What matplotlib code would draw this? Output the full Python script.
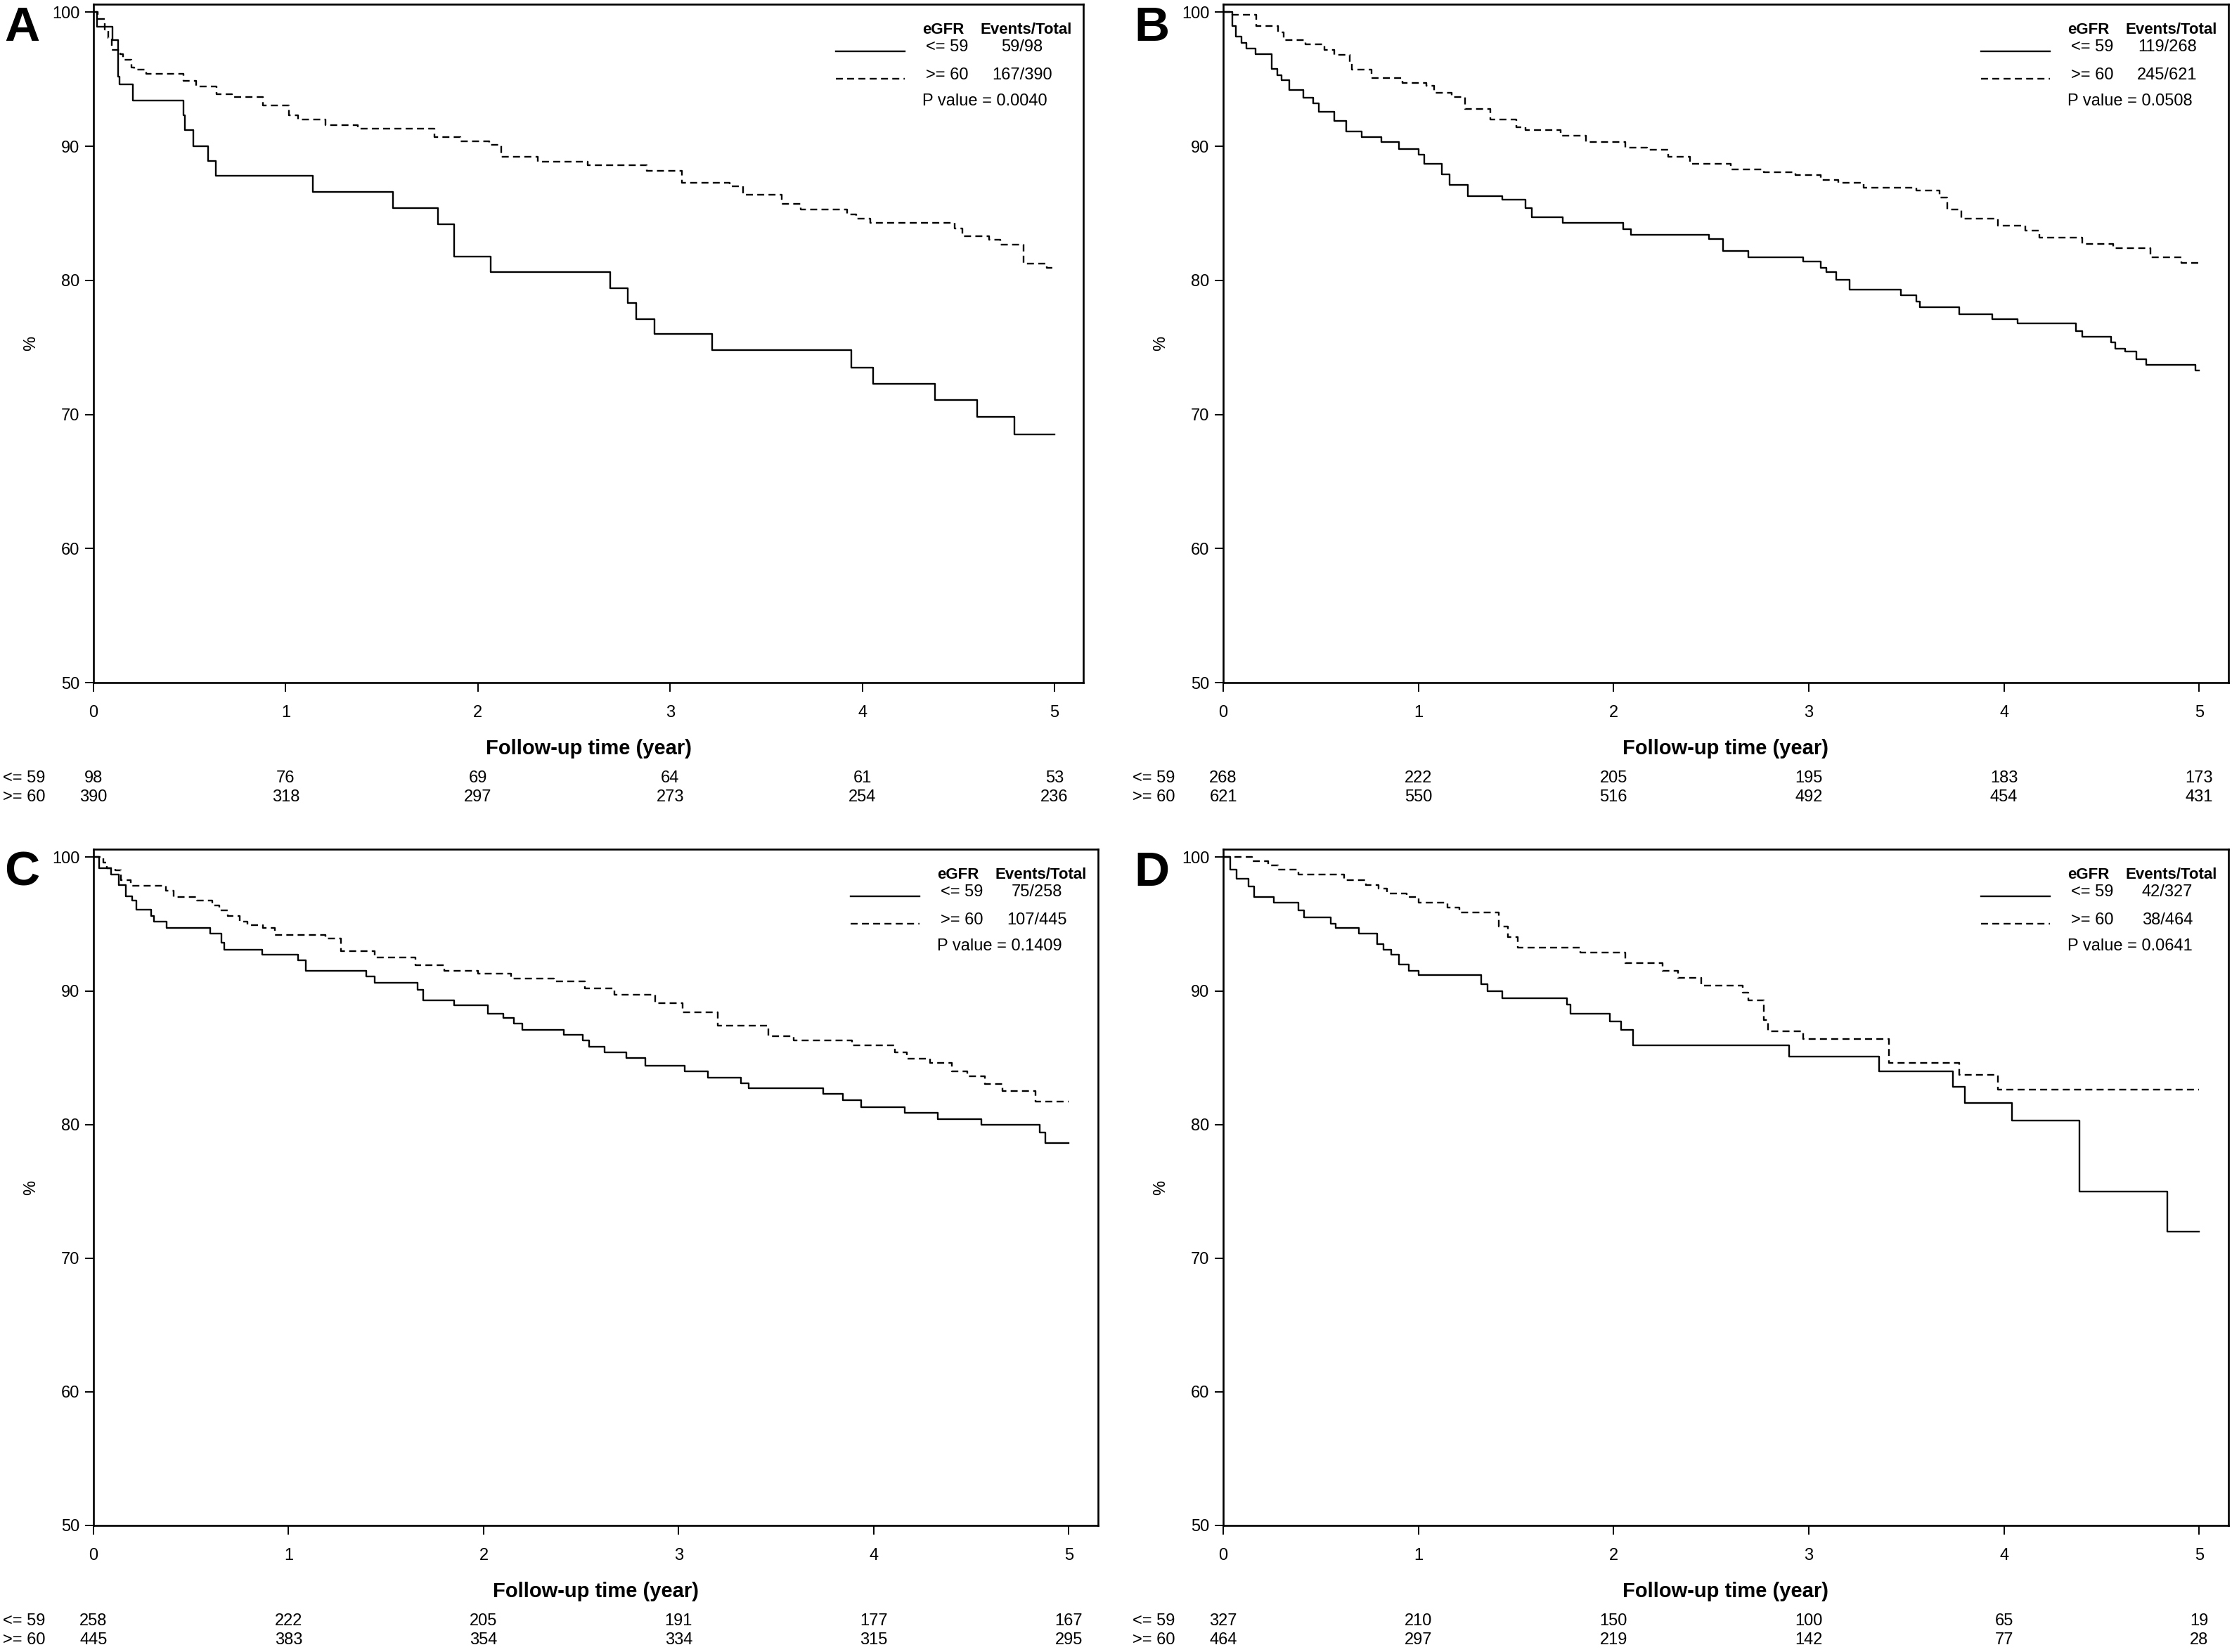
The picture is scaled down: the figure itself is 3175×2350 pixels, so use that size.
import matplotlib
matplotlib.use('Agg')
import matplotlib.pyplot as plt

plt.rcParams['font.family'] = ['Liberation Sans', 'DejaVu Sans']

W, H = 3175, 2350

# ---- data (time in years, survival in %) ----
years = [0, 1, 2, 3, 4, 5]

# A
A_lo_t = [0, 0.02, 0.098, 0.127, 0.136, 0.206, 0.467, 0.474, 0.521, 0.596, 0.636, 1.142, 1.557,
          1.792, 1.876, 2.067, 2.69, 2.78, 2.825, 2.92, 3.22, 3.944, 4.056, 4.38, 4.597, 4.79, 5.0]
A_lo_s = [100, 98.9, 97.9, 95.2, 94.6, 93.4, 92.3, 91.2, 90.0, 88.9, 87.8, 86.6, 85.4,
          84.2, 81.8, 80.6, 79.4, 78.3, 77.1, 76.0, 74.8, 73.5, 72.3, 71.1, 69.8, 68.5, 68.5]
A_hi_t = [0, 0.023, 0.06, 0.077, 0.096, 0.139, 0.155, 0.196, 0.212, 0.273, 0.467, 0.534, 0.64,
          0.722, 0.882, 1.016, 1.065, 1.207, 1.376, 1.773, 1.91, 2.06, 2.12, 2.31, 2.57, 2.88,
          3.06, 3.31, 3.38, 3.58, 3.68, 3.92, 3.97, 4.04, 4.48, 4.52, 4.66, 4.72, 4.84, 4.96, 5.0]
A_hi_s = [100, 99.5, 98.7, 98.1, 97.2, 96.9, 96.45, 95.9, 95.7, 95.4, 94.9, 94.45, 93.9,
          93.7, 93.05, 92.3, 92.0, 91.6, 91.3, 90.7, 90.4, 90.1, 89.2, 88.85, 88.6, 88.15,
          87.3, 87.0, 86.4, 85.7, 85.3, 84.9, 84.6, 84.3, 83.85, 83.3, 83.05, 82.65, 81.25, 80.95, 80.95]
A_risk_lo = [98, 76, 69, 64, 61, 53]
A_risk_hi = [390, 318, 297, 273, 254, 236]
A_legend = ['59/98', '167/390', 'P value = 0.0040']

# B
B_lo_t = [0, 0.047, 0.065, 0.094, 0.12, 0.167, 0.247, 0.276, 0.3, 0.34, 0.41, 0.46, 0.49, 0.57,
          0.63, 0.71, 0.81, 0.9, 1.0, 1.03, 1.12, 1.16, 1.255, 1.43, 1.55, 1.58, 1.74, 2.05, 2.09,
          2.49, 2.56, 2.69, 2.97, 3.06, 3.09, 3.14, 3.21, 3.47, 3.55, 3.57, 3.77, 3.94, 4.07, 4.37,
          4.4, 4.55, 4.57, 4.62, 4.68, 4.73, 4.98, 5.0]
B_lo_s = [100, 99.0, 98.2, 97.7, 97.3, 96.9, 95.8, 95.3, 94.95, 94.2, 93.6, 93.2, 92.6, 91.9,
          91.1, 90.7, 90.3, 89.8, 89.4, 88.7, 87.9, 87.1, 86.3, 86.0, 85.4, 84.7, 84.3, 83.8, 83.4,
          83.1, 82.2, 81.7, 81.4, 80.95, 80.6, 80.05, 79.3, 78.9, 78.4, 78.0, 77.5, 77.1, 76.8, 76.2,
          75.8, 75.4, 74.9, 74.7, 74.1, 73.7, 73.3, 73.3]
B_hi_t = [0, 0.047, 0.17, 0.28, 0.31, 0.42, 0.52, 0.57, 0.65, 0.66, 0.76, 0.92, 1.04, 1.08, 1.17,
          1.24, 1.37, 1.5, 1.55, 1.73, 1.86, 2.06, 2.17, 2.28, 2.39, 2.6, 2.77, 2.93, 3.06, 3.15,
          3.28, 3.55, 3.67, 3.71, 3.78, 3.97, 4.11, 4.18, 4.4, 4.56, 4.75, 4.91, 5.0]
B_hi_s = [100, 99.8, 99.0, 98.5, 97.9, 97.6, 97.2, 96.8, 96.2, 95.7, 95.1, 94.75, 94.5, 94.0, 93.7,
          92.8, 92.0, 91.4, 91.2, 90.8, 90.3, 89.9, 89.75, 89.2, 88.7, 88.3, 88.05, 87.85, 87.5, 87.3,
          86.9, 86.7, 86.2, 85.3, 84.6, 84.1, 83.7, 83.2, 82.7, 82.4, 81.7, 81.3, 81.3]
B_risk_lo = [268, 222, 205, 195, 183, 173]
B_risk_hi = [621, 550, 516, 492, 454, 431]
B_legend = ['119/268', '245/621', 'P value = 0.0508']

# C
C_lo_t = [0, 0.03, 0.09, 0.13, 0.166, 0.2, 0.22, 0.295, 0.31, 0.376, 0.6, 0.656, 0.67, 0.866,
          1.05, 1.087, 1.4, 1.44, 1.66, 1.69, 1.85, 2.02, 2.1, 2.155, 2.2, 2.41, 2.51, 2.54, 2.62,
          2.73, 2.83, 3.03, 3.15, 3.32, 3.36, 3.74, 3.84, 3.935, 4.16, 4.33, 4.55, 4.85, 4.88, 5.0]
C_lo_s = [100, 99.2, 98.7, 97.9, 97.1, 96.75, 96.1, 95.6, 95.2, 94.7, 94.3, 93.6, 93.1, 92.7,
          92.3, 91.5, 91.1, 90.6, 90.1, 89.3, 88.9, 88.3, 88.0, 87.55, 87.1, 86.7, 86.3, 85.8, 85.4,
          85.0, 84.4, 84.0, 83.5, 83.1, 82.7, 82.3, 81.8, 81.3, 80.9, 80.4, 80.0, 79.4, 78.6, 78.6]
C_hi_t = [0, 0.05, 0.07, 0.11, 0.14, 0.19, 0.37, 0.41, 0.53, 0.61, 0.645, 0.69, 0.75, 0.79, 0.87,
          0.93, 1.19, 1.27, 1.44, 1.65, 1.8, 1.97, 2.14, 2.36, 2.52, 2.67, 2.88, 3.02, 3.2, 3.46,
          3.59, 3.89, 4.11, 4.17, 4.29, 4.4, 4.48, 4.57, 4.66, 4.83, 5.0]
C_hi_s = [100, 99.6, 99.2, 99.0, 98.3, 97.85, 97.5, 97.0, 96.75, 96.4, 96.0, 95.6, 95.2, 94.9, 94.7,
          94.2, 93.9, 92.96, 92.5, 91.9, 91.5, 91.3, 90.9, 90.7, 90.2, 89.7, 89.1, 88.4, 87.4, 86.6,
          86.3, 85.9, 85.4, 84.9, 84.6, 84.0, 83.6, 83.05, 82.5, 81.7, 81.7]
C_risk_lo = [258, 222, 205, 191, 177, 167]
C_risk_hi = [445, 383, 354, 334, 315, 295]
C_legend = ['75/258', '107/445', 'P value = 0.1409']

# D
D_lo_t = [0, 0.037, 0.07, 0.13, 0.16, 0.26, 0.385, 0.414, 0.55, 0.575, 0.696, 0.79, 0.82, 0.86,
          0.9, 0.95, 1.0, 1.32, 1.355, 1.43, 1.76, 1.78, 1.98, 2.04, 2.1, 2.9, 3.36, 3.74, 3.8,
          4.04, 4.385, 4.835, 5.0]
D_lo_s = [100, 99.1, 98.4, 97.8, 97.0, 96.6, 96.0, 95.5, 95.0, 94.7, 94.3, 93.5, 93.1, 92.7,
          91.95, 91.5, 91.2, 90.5, 90.0, 89.45, 88.95, 88.3, 87.7, 87.1, 85.9, 85.1, 84.0, 82.8, 81.6,
          80.3, 75.0, 72.0, 72.0]
D_hi_t = [0, 0.147, 0.23, 0.28, 0.385, 0.62, 0.73, 0.795, 0.84, 0.94, 1.0, 1.15, 1.21, 1.41, 1.46,
          1.51, 1.83, 2.06, 2.25, 2.33, 2.45, 2.66, 2.69, 2.77, 2.79, 2.97, 3.41, 3.77, 3.97, 5.0]
D_hi_s = [100, 99.7, 99.4, 99.1, 98.7, 98.3, 97.9, 97.65, 97.3, 97.0, 96.6, 96.25, 95.85, 94.8, 94.0,
          93.25, 92.85, 92.1, 91.5, 91.0, 90.4, 89.85, 89.3, 87.8, 87.0, 86.4, 84.6, 83.7, 82.6, 82.6]
D_risk_lo = [327, 210, 150, 100, 65, 19]
D_risk_hi = [464, 297, 219, 142, 77, 28]
D_legend = ['42/327', '38/464', 'P value = 0.0641']

group_labels = ['<= 59', '>= 60']

# axes rectangles in pixels: left, right, top, bottom
panels = [
    ('A', (133, 1541, 6, 971), A_lo_t, A_lo_s, A_hi_t, A_hi_s, A_risk_lo, A_risk_hi, A_legend),
    ('B', (1740, 3170, 6, 971), B_lo_t, B_lo_s, B_hi_t, B_hi_s, B_risk_lo, B_risk_hi, B_legend),
    ('C', (133, 1562, 1208, 2170), C_lo_t, C_lo_s, C_hi_t, C_hi_s, C_risk_lo, C_risk_hi, C_legend),
    ('D', (1740, 3170, 1208, 2170), D_lo_t, D_lo_s, D_hi_t, D_hi_s, D_risk_lo, D_risk_hi, D_legend),
]

fig = plt.figure(figsize=(W / 100, H / 100), dpi=100)
DASH = (4.2, 2.6)
LW = 1.7
FS = 17

for letter, (l, r, t, b), lo_t, lo_s, hi_t, hi_s, risk_lo, risk_hi, leg in panels:
    ax = fig.add_axes([l / W, 1 - b / H, (r - l) / W, (b - t) / H])
    ax.step(lo_t, lo_s, where='post', color='black', linewidth=LW)
    ax.step(hi_t, hi_s, where='post', color='black', linewidth=LW, dashes=DASH)
    ax.set_xlim(0, 5.15)
    ax.set_ylim(50, 100.6)
    ax.set_xticks(years)
    ax.set_yticks([50, 60, 70, 80, 90, 100])
    ax.tick_params(direction='out', length=9, width=1.4, labelsize=FS)
    ax.tick_params(axis='x', pad=14)
    ax.tick_params(axis='y', pad=5)
    for sp in ax.spines.values():
        sp.set_linewidth(1.9)

    # y label
    ax.annotate('%', xy=(0, 0.5), xycoords='axes fraction', xytext=(-89, 0),
                textcoords='offset pixels', rotation=90, ha='center', va='center', fontsize=FS)
    # x label
    ax.annotate('Follow-up time (year)', xy=(0.5, 0), xycoords='axes fraction',
                xytext=(0, -94), textcoords='offset pixels', ha='center', va='center',
                fontsize=21, fontweight='bold')
    # panel letter
    ax.annotate(letter, xy=(0, 1), xycoords='axes fraction', xytext=(-102, -34),
                textcoords='offset pixels', ha='center', va='center', fontsize=50,
                fontweight='bold')

    # numbers at risk
    for row, (lab, counts) in enumerate(zip(group_labels, [risk_lo, risk_hi])):
        dy = -136 - 27 * row
        ax.annotate(lab, xy=(0, 0), xycoords='axes fraction', xytext=(-129, dy),
                    textcoords='offset pixels', ha='left', va='center', fontsize=FS,
                    annotation_clip=False)
        for yr, n in zip(years, counts):
            ax.annotate(str(n), xy=(yr, 0), xycoords=('data', 'axes fraction'),
                        xytext=(0, dy), textcoords='offset pixels', ha='center',
                        va='center', fontsize=FS, annotation_clip=False)

    # legend block (anchored to top-right corner)
    def put(txt, dx, dy, ha='left', bold=False, size=FS):
        ax.annotate(txt, xy=(1, 1), xycoords='axes fraction', xytext=(dx, dy),
                    textcoords='offset pixels', ha=ha, va='center', fontsize=size,
                    fontweight='bold' if bold else 'normal')

    put('eGFR', -229, -37, bold=True, size=16)
    put('Events/Total', -16, -37, ha='right', bold=True, size=16)
    put(group_labels[0], -224, -61)
    put(leg[0], -87, -61, ha='center')
    put(group_labels[1], -224, -101)
    put(leg[1], -87, -101, ha='center')
    put(leg[2], -229, -138)

    x0 = 1 - 352 / (r - l)
    x1 = 1 - 254 / (r - l)
    y1 = 1 - 67 / (b - t)
    y2 = 1 - 106 / (b - t)
    ax.plot([x0, x1], [y1, y1], transform=ax.transAxes, color='black', linewidth=LW)
    ax.plot([x0, x1], [y2, y2], transform=ax.transAxes, color='black', linewidth=LW,
            dashes=DASH)

fig.savefig('out.png', dpi=100)
plt.close(fig)
